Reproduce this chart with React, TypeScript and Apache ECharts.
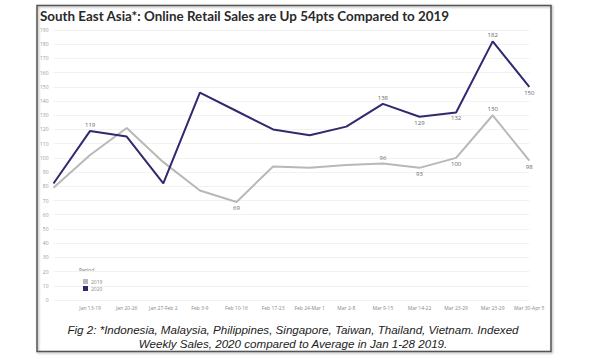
import React, { useEffect, useRef } from "react";
import * as echarts from "echarts";

const categories = ["", "Jan 13-19", "Jan 20-26", "Jan 27-Feb 2", "Feb 3-9", "Feb 10-16", "Feb 17-23", "Feb 24-Mar 1", "Mar 2-8", "Mar 9-15", "Mar 14-22", "Mar 23-29", "Mar 23-29", "Mar 30-Apr 5"];
const sales2019 = [79, 102, 121, 97, 77, 69, 94, 93, 95, 96, 93, 100, 130, 98];
const sales2020 = [82, 119, 115, 82, 146, 133, 120, 116, 122, 138, 129, 132, 182, 150];
const yTicks = { min: 0, max: 190, interval: 10 };

const labels2019: Record<number, string> = { 5: "bottom", 9: "top", 10: "bottom", 11: "bottom", 12: "top", 13: "bottom" };
const labels2020: Record<number, string> = { 1: "top", 9: "top", 10: "bottom", 11: "bottom", 12: "top", 13: "bottom" };

const C2019 = "#b8b8b8";
const C2020 = "#2f2a6e";
const LABEL = { distance: 3, fontSize: 6, color: "#666666", fontFamily: "Open Sans", textBorderWidth: 0, textBorderColor: "transparent" };

function build(values: number[], lab: Record<number, string>) {
  return values.map((v, i) =>
    lab[i] ? { value: v, label: { show: true, position: lab[i], ...LABEL } } : { value: v }
  );
}

export default function App() {
  const ref = useRef<HTMLDivElement>(null);
  useEffect(() => {
    const chart = echarts.init(ref.current!, null, { renderer: "svg" });
    chart.setOption({
      animation: false,
      backgroundColor: "#ffffff",
      grid: { left: 53.5, right: 70.7, top: 30, bottom: 60 },
      xAxis: {
        type: "category",
        data: categories,
        boundaryGap: false,
        axisLine: { show: false },
        axisTick: { show: false },
        axisLabel: { fontSize: 5, color: "#888", margin: 5, interval: 0, fontFamily: "Open Sans" },
      },
      yAxis: {
        type: "value",
        min: yTicks.min,
        max: yTicks.max,
        interval: yTicks.interval,
        axisLine: { show: false },
        axisTick: { show: false },
        axisLabel: { fontSize: 5, color: "#999", margin: 5, fontFamily: "Open Sans" },
        splitLine: { lineStyle: { color: "#f2f2f2", width: 1 } },
      },
      legend: {
        orient: "vertical",
        left: 78,
        top: 274,
        itemWidth: 5,
        itemHeight: 5,
        itemGap: 2,
        icon: "rect",
        textStyle: { fontSize: 5, color: "#888", fontFamily: "Open Sans", padding: [0, 0, 0, -2] },
        data: ["2019", "2020"],
      },
      series: [
        {
          name: "2019",
          type: "line",
          data: build(sales2019, labels2019),
          symbol: "circle",
          symbolSize: 0.1,
          showSymbol: true,
          label: { show: false, ...LABEL },
          lineStyle: { color: C2019, width: 2 },
          itemStyle: { color: C2019 },
        },
        {
          name: "2020",
          type: "line",
          data: build(sales2020, labels2020),
          symbol: "circle",
          symbolSize: 0.1,
          showSymbol: true,
          label: { show: false, ...LABEL },
          lineStyle: { color: C2020, width: 2 },
          itemStyle: { color: C2020 },
        },
      ],
      graphic: [
        {
          type: "rect",
          shape: { x: 37, y: 5.5, width: 514, height: 346 },
          style: { fill: "none", stroke: "#555", lineWidth: 1.5, shadowBlur: 2, shadowColor: "rgba(0,0,0,0.35)", shadowOffsetX: 1, shadowOffsetY: 1 },
          silent: true,
        },
        {
          type: "text",
          x: 40,
          y: 15.5,
          style: { text: "South East Asia*: Online Retail Sales are Up 54pts Compared to 2019", font: "bold 13.4px Lato", fill: "#2a2a2a", verticalAlign: "middle" },
        },
        {
          type: "text",
          left: 79,
          top: 267,
          style: { text: "Period", font: "5px 'Open Sans'", fill: "#777" },
        },
        {
          type: "text",
          x: 293,
          y: 336,
          style: {
            text: "Fig 2: *Indonesia, Malaysia, Philippines, Singapore, Taiwan, Thailand, Vietnam. Indexed\nWeekly Sales, 2020 compared to Average in Jan 1-28 2019.",
            font: "italic 11.6px 'Liberation Sans'",
            fill: "#222",
            align: "center",
            verticalAlign: "middle",
            lineHeight: 14,
          },
        },
      ],
    });
    return () => chart.dispose();
  }, []);
  return <div ref={ref} style={{ position: "fixed", left: 0, top: 0, width: 600, height: 360 }} />;
}
